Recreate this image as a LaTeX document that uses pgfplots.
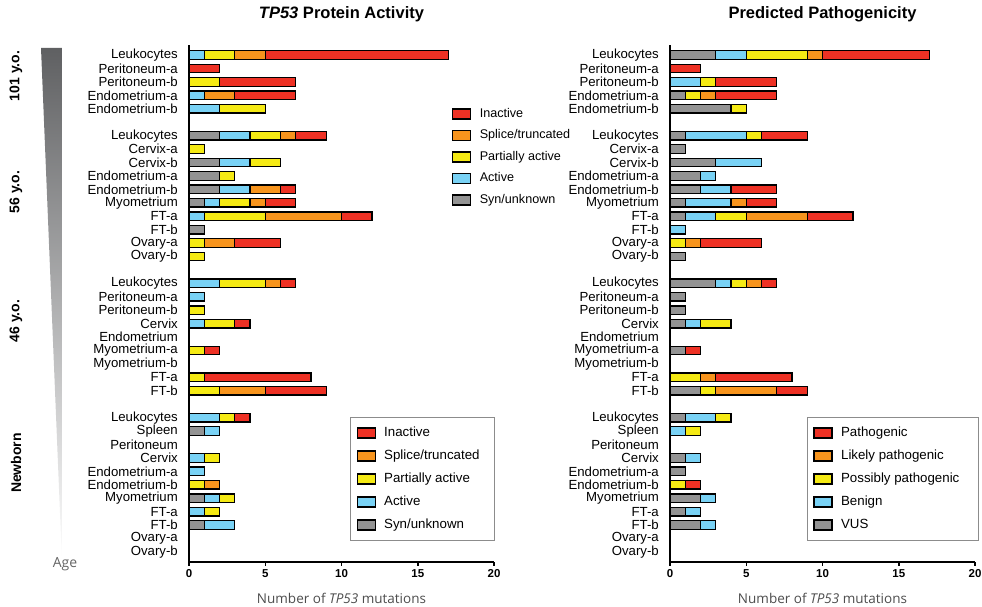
\documentclass[border=0pt]{standalone}
\usepackage{fontspec}
\setmainfont{Liberation Sans}
\newfontfamily\labelfont{Open Sans}
\usepackage{pgfplots}
\usepackage{pgfplotstable}
\pgfplotsset{compat=1.18}
\definecolor{cRed}{HTML}{EE3124}
\definecolor{cOrange}{HTML}{F7941D}
\definecolor{cYellow}{HTML}{F5EA14}
\definecolor{cBlue}{HTML}{79D2F5}
\definecolor{cGray}{HTML}{939393}
\definecolor{axlab}{HTML}{4D4D4D}
\definecolor{legframe}{HTML}{8C8C8C}
\definecolor{wedgetop}{HTML}{5F6062}

% y: row position (top row = 37)
\pgfplotstableread{
y  syn active partial splice inactive
37 0 1 2 2 12
36 0 0 0 0 2
35 0 0 2 0 5
34 0 1 0 2 4
33 0 2 3 0 0
31 2 2 2 1 2
30 0 0 1 0 0
29 2 2 2 0 0
28 2 0 1 0 0
27 2 2 0 2 1
26 1 1 2 1 2
25 0 1 4 5 2
24 1 0 0 0 0
23 0 0 1 2 3
22 0 0 1 0 0
20 0 2 3 1 1
19 0 1 0 0 0
18 0 0 1 0 0
17 0 1 2 0 1
16 0 0 0 0 0
15 0 0 1 0 1
14 0 0 0 0 0
13 0 0 1 0 7
12 0 0 2 3 4
10 0 2 1 0 1
9  1 1 0 0 0
8  0 0 0 0 0
7  0 1 1 0 0
6  0 1 0 0 0
5  0 0 1 1 0
4  1 1 1 0 0
3  0 1 1 0 0
2  1 2 0 0 0
1  0 0 0 0 0
0  0 0 0 0 0
}\activity

\pgfplotstableread{
y  vus benign possibly likely pathogenic
37 3 2 4 1 7
36 0 0 0 0 2
35 0 2 1 0 4
34 1 0 1 1 4
33 4 0 1 0 0
31 1 4 1 0 3
30 1 0 0 0 0
29 3 3 0 0 0
28 2 1 0 0 0
27 2 2 0 0 3
26 1 3 0 1 2
25 1 2 2 4 3
24 0 1 0 0 0
23 0 0 1 1 4
22 1 0 0 0 0
20 3 1 1 1 1
19 1 0 0 0 0
18 1 0 0 0 0
17 1 1 2 0 0
16 0 0 0 0 0
15 1 0 0 0 1
14 0 0 0 0 0
13 0 0 2 1 5
12 2 0 1 4 2
10 1 2 1 0 0
9  0 1 1 0 0
8  0 0 0 0 0
7  1 1 0 0 0
6  1 0 0 0 0
5  0 0 1 0 1
4  2 1 0 0 0
3  1 1 0 0 0
2  2 1 0 0 0
1  0 0 0 0 0
0  0 0 0 0 0
}\patho

\pgfplotsset{
  boxlegend/.style={legend image code/.code={\draw[##1,line width=1.3pt] (0pt,-5pt) rectangle (18pt,5pt);\path[draw=none,fill=none] (18pt,-1pt) rectangle (26pt,1pt);}},
  panel/.style={
    scale only axis, width=305pt, height=517pt,
    xbar stacked, bar width=8.5pt,
    xmin=0, xmax=20, ymin=-0.75, ymax=37.75,
    axis x line*=bottom, axis y line*=left,
    axis line style={line width=2pt,-},
    xtick={0,5,10,15,20},
    ytick={0,1,2,3,4,5,6,7,8,9,10,12,13,14,15,16,17,18,19,20,22,23,24,25,26,27,28,29,30,31,33,34,35,36,37},
    yticklabels={Ovary-b,Ovary-a,FT-b,FT-a,Myometrium,Endometrium-b,Endometrium-a,Cervix,Peritoneum,Spleen,Leukocytes,FT-b,FT-a,Myometrium-b,Myometrium-a,Endometrium,Cervix,Peritoneum-b,Peritoneum-a,Leukocytes,Ovary-b,Ovary-a,FT-b,FT-a,Myometrium,Endometrium-b,Endometrium-a,Cervix-b,Cervix-a,Leukocytes,Endometrium-b,Endometrium-a,Peritoneum-b,Peritoneum-a,Leukocytes},
    ytick style={draw=none},
    xtick style={black, line width=1.5pt},
    tick align=outside, major tick length=4pt,
    /pgf/number format/assume math mode=true,
    xticklabel style={font=\fontsize{11.5}{13}\selectfont\bfseries},
    yticklabel style={font=\fontsize{13.2}{15}\selectfont, inner sep=0pt, xshift=-7pt},
    xlabel style={font=\labelfont\fontsize{13.5}{16}\selectfont, text=axlab, at={(axis description cs:0.5,0)}, anchor=center, yshift=-36pt},
    title style={font=\fontsize{16.5}{19}\selectfont\bfseries, at={(axis description cs:0.5,1)}, anchor=center, yshift=25pt},
    legend style={draw=legframe, line width=1pt, font=\fontsize{13.3}{15}\selectfont, anchor=north west,
      row sep=8pt, inner xsep=6pt, inner ysep=8pt,
      nodes={inner sep=1pt, text height=10pt, text depth=3pt}},
    legend cell align=left, reverse legend,
    boxlegend,
    every axis plot/.append style={draw=black, line width=1.3pt},
  }
}

\begin{document}
\begin{tikzpicture}
\path[use as bounding box] (0,0) rectangle (982pt,607pt);

% age wedge
\shade[top color=wedgetop, bottom color=white] (41pt,559pt) -- (62pt,559pt) -- (62pt,45pt) -- cycle;
\node[text={rgb,255:red,100;green,100;blue,100}, font=\labelfont\fontsize{14}{16}\selectfont] at (65pt,43pt) {Age};
\foreach \lab/\yy in {{101 y.o.}/531, {56 y.o.}/415, {46 y.o.}/286, {Newborn}/144}{
  \node[rotate=90, font=\fontsize{14}{16}\selectfont\bfseries] at (16pt,\yy pt) {\lab};
}

% ---------- left panel ----------
\begin{axis}[panel, at={(189pt,45pt)}, anchor=south west,
  title={\itshape TP53\upshape{} Protein Activity},
  xlabel={Number of \textit{TP53} mutations},
  legend style={at={(0.528,0.2805)}}]
\addplot[fill=cGray]   table[x=syn,y=y]{\activity};
\addlegendentry{\makebox[103pt][l]{Syn/unknown}}
\addplot[fill=cBlue]   table[x=active,y=y]{\activity};
\addlegendentry{\makebox[103pt][l]{Active}}
\addplot[fill=cYellow] table[x=partial,y=y]{\activity};
\addlegendentry{\makebox[103pt][l]{Partially active}}
\addplot[fill=cOrange] table[x=splice,y=y]{\activity};
\addlegendentry{\makebox[103pt][l]{Splice/truncated}}
\addplot[fill=cRed]    table[x=inactive,y=y]{\activity};
\addlegendentry{\makebox[103pt][l]{Inactive}}
\end{axis}

% ---------- floating legend between panels ----------
\begin{axis}[scale only axis, width=305pt, height=517pt, at={(189pt,45pt)}, anchor=south west,
  hide axis, xmin=0, xmax=1, ymin=0, ymax=1, boxlegend,
  legend style={draw=none, fill=none, at={(0.862,0.881)}, anchor=north west,
    font=\fontsize{12.6}{14}\selectfont, row sep=7pt, inner sep=0pt,
    nodes={inner sep=1pt, text height=9.5pt, text depth=3pt}},
  legend cell align=left]
\addlegendimage{fill=cRed, draw=black, line width=1.3pt}
\addlegendentry{Inactive}
\addlegendimage{fill=cOrange, draw=black, line width=1.3pt}
\addlegendentry{Splice/truncated}
\addlegendimage{fill=cYellow, draw=black, line width=1.3pt}
\addlegendentry{Partially active}
\addlegendimage{fill=cBlue, draw=black, line width=1.3pt}
\addlegendentry{Active}
\addlegendimage{fill=cGray, draw=black, line width=1.3pt}
\addlegendentry{Syn/unknown}
\end{axis}

% ---------- right panel ----------
\begin{axis}[panel, at={(670pt,45pt)}, anchor=south west,
  title={Predicted Pathogenicity},
  xlabel={Number of \textit{TP53} mutations},
  legend style={at={(0.449,0.2805)}}]
\addplot[fill=cGray]   table[x=vus,y=y]{\patho};
\addlegendentry{\makebox[130pt][l]{VUS}}
\addplot[fill=cBlue]   table[x=benign,y=y]{\patho};
\addlegendentry{\makebox[130pt][l]{Benign}}
\addplot[fill=cYellow] table[x=possibly,y=y]{\patho};
\addlegendentry{\makebox[130pt][l]{Possibly pathogenic}}
\addplot[fill=cOrange] table[x=likely,y=y]{\patho};
\addlegendentry{\makebox[130pt][l]{Likely pathogenic}}
\addplot[fill=cRed]    table[x=pathogenic,y=y]{\patho};
\addlegendentry{\makebox[130pt][l]{Pathogenic}}
\end{axis}
\end{tikzpicture}
\end{document}
